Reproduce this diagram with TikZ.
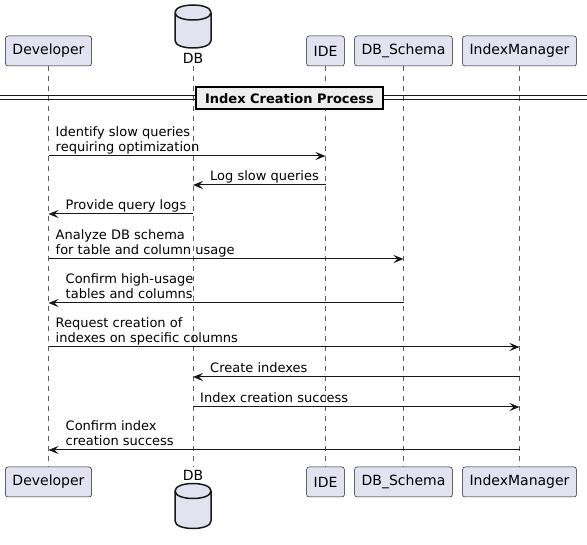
\documentclass[tikz,border=0pt]{standalone}
\usepackage{fontspec}
\setmainfont{DejaVu Sans}
\usetikzlibrary{arrows.meta}
\definecolor{partfill}{HTML}{E2E2F0}
\definecolor{ink}{HTML}{181818}
\definecolor{sepfill}{HTML}{EEEEEE}
\begin{document}
\begin{tikzpicture}[x=1pt,y=-1pt,
  part/.style={draw=ink, fill=partfill, line width=0.5pt, rounded corners=2.5pt,
    minimum height=30pt, inner xsep=7pt, inner ysep=0pt, font=\fontsize{14}{16}\selectfont},
  dblabel/.style={inner sep=0pt, font=\fontsize{14}{16}\selectfont},
  life/.style={draw=ink!70, line width=0.5pt, dash pattern=on 5pt off 5pt},
  msg/.style={draw=ink, line width=1pt, -{Stealth[length=10pt,width=8pt,inset=4pt]}},
  lbl/.style={anchor=south west, inner sep=0pt, align=left, font=\fontsize{13}{15.1}\selectfont},
  cyl/.style={draw=ink, fill=partfill, line width=1.5pt},
  sepline/.style={draw=ink, line width=1pt},
  sepbox/.style={draw=black, line width=2pt, fill=sepfill, minimum width=187pt,
    minimum height=22pt, inner sep=0pt, font=\fontsize{13}{15}\selectfont\bfseries}
]
\useasboundingbox (0,0) rectangle (587,545);

% participants (top)
\node[part] (devT) at (48.5,51) {Developer};
\node[part] (ideT) at (325.5,51) {IDE};
\node[part] (schT) at (403.5,51) {DB\_Schema};
\node[part] (imT)  at (519.5,51) {IndexManager};
% participants (bottom)
\node[part] (devB) at (48.5,482) {Developer};
\node[part] (ideB) at (325.5,482) {IDE};
\node[part] (schB) at (403.5,482) {DB\_Schema};
\node[part] (imB)  at (519.5,482) {IndexManager};

% DB database symbols
\draw[cyl] (175,12.5) .. controls (175,2.5) and (211,2.5) .. (211,12.5)
  -- (211,40.5) .. controls (211,50.5) and (175,50.5) .. (175,40.5) -- cycle;
\draw[cyl] (175,12.5) .. controls (175,22.5) and (211,22.5) .. (211,12.5);
\node[dblabel] (dbTl) at (193,58.5) {DB};
\coordinate (dbT) at (193,66);

\draw[cyl] (175,491) .. controls (175,481) and (211,481) .. (211,491)
  -- (211,521) .. controls (211,531) and (175,531) .. (175,521) -- cycle;
\draw[cyl] (175,491) .. controls (175,501) and (211,501) .. (211,491);
\node[dblabel] (dbBl) at (193,475) {DB};
\coordinate (dbB) at (193,467);

% lifelines
\draw[life] (devT.south) -- (devB.north);
\draw[life] (dbT) -- (dbB);
\draw[life] (ideT.south) -- (ideB.north);
\draw[life] (schT.south) -- (schB.north);
\draw[life] (imT.south) -- (imB.north);

% separator
\draw[sepline] (0,96) -- (587,96);
\draw[sepline] (0,99.5) -- (587,99.5);
\node[sepbox] (sep) at (289.5,98.5) {Index Creation Process};

% messages
\draw[msg] (devT |- 0,156) -- (ideT |- 0,156);
\node[lbl] (m1) at (55.5,154.5) {Identify slow queries\\requiring optimization\vphantom{g}};

\draw[msg] (ideT |- 0,185) -- (dbT |- 0,185);
\node[lbl] (m2) at (210,183.5) {Log slow queries\vphantom{g}};

\draw[msg] (dbT |- 0,214) -- (devT |- 0,214);
\node[lbl] (m3) at (65.5,212.5) {Provide query logs\vphantom{g}};

\draw[msg] (devT |- 0,259) -- (schT |- 0,259);
\node[lbl] (m4) at (55.5,257.5) {Analyze DB schema\\for table and column usage\vphantom{g}};

\draw[msg] (schT |- 0,303) -- (devT |- 0,303);
\node[lbl] (m5) at (65.5,301.5) {Confirm high-usage\\tables and columns\vphantom{g}};

\draw[msg] (devT |- 0,347) -- (imT |- 0,347);
\node[lbl] (m6) at (55.5,345.5) {Request creation of\\indexes on specific columns\vphantom{g}};

\draw[msg] (imT |- 0,377) -- (dbT |- 0,377);
\node[lbl] (m7) at (210,375.5) {Create indexes\vphantom{g}};

\draw[msg] (dbT |- 0,407) -- (imT |- 0,407);
\node[lbl] (m8) at (200,405.5) {Index creation success\vphantom{g}};

\draw[msg] (imT |- 0,450) -- (devT |- 0,450);
\node[lbl] (m9) at (65.5,448.5) {Confirm index\\creation success\vphantom{g}};
\end{tikzpicture}
\end{document}
